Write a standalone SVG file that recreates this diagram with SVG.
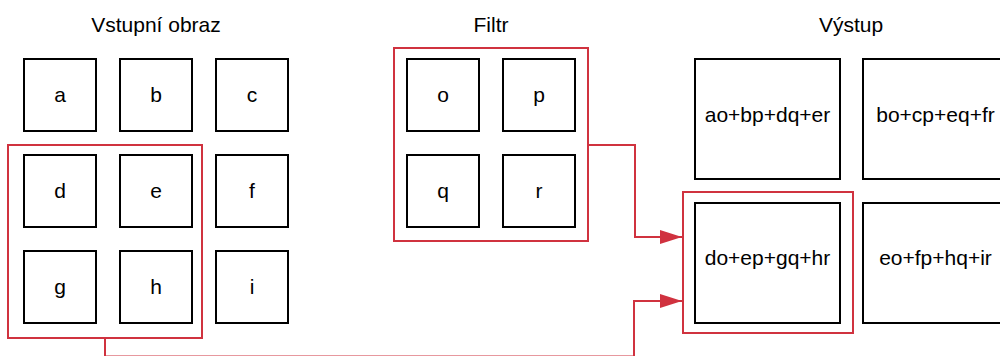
<svg xmlns="http://www.w3.org/2000/svg" width="1000" height="356" viewBox="0 0 1000 356">
  <style>
    .cell { fill: #ffffff; stroke: #000000; stroke-width: 2; }
    .sel { fill: none; stroke: #d0323f; stroke-width: 2; }
    .title { font-family: "Liberation Sans", Arial, sans-serif; font-size: 21px; fill: #000000; text-anchor: middle; }
    .lbl { font-family: "Liberation Sans", Arial, sans-serif; font-size: 21px; fill: #000000; text-anchor: middle; }
    .wire { fill: none; stroke: #d0323f; stroke-width: 2; }
  </style>
  <defs>
    <marker id="arrow" viewBox="0 0 22 14" refX="22" refY="7" markerWidth="22" markerHeight="14" markerUnits="userSpaceOnUse" orient="auto">
      <path d="M0,0 L22,7 L0,14 Z" fill="#d0323f"/>
    </marker>
  </defs>
  <rect width="1000" height="356" fill="#ffffff"/>

  <!-- section titles -->
  <text class="title" x="156" y="32">Vstupní obraz</text>
  <text class="title" x="491" y="32">Filtr</text>
  <text class="title" x="851" y="32">Výstup</text>

  <!-- input image 3x3 -->
  <g id="in-a"><rect class="cell" x="24" y="59" width="72" height="72"/><text class="lbl" x="60" y="102">a</text></g>
  <g id="in-b"><rect class="cell" x="120" y="59" width="72" height="72"/><text class="lbl" x="156" y="102">b</text></g>
  <g id="in-c"><rect class="cell" x="216" y="59" width="72" height="72"/><text class="lbl" x="252" y="102">c</text></g>
  <g id="in-d"><rect class="cell" x="24" y="155" width="72" height="72"/><text class="lbl" x="60" y="198">d</text></g>
  <g id="in-e"><rect class="cell" x="120" y="155" width="72" height="72"/><text class="lbl" x="156" y="198">e</text></g>
  <g id="in-f"><rect class="cell" x="216" y="155" width="72" height="72"/><text class="lbl" x="252" y="198">f</text></g>
  <g id="in-g"><rect class="cell" x="24" y="251" width="72" height="72"/><text class="lbl" x="60" y="294">g</text></g>
  <g id="in-h"><rect class="cell" x="120" y="251" width="72" height="72"/><text class="lbl" x="156" y="294">h</text></g>
  <g id="in-i"><rect class="cell" x="216" y="251" width="72" height="72"/><text class="lbl" x="252" y="294">i</text></g>
  <g id="in-window"><rect class="sel" x="8" y="145" width="194" height="193"/></g>

  <!-- filter 2x2 -->
  <g id="filter-frame"><rect class="sel" x="394" y="48" width="194" height="193"/></g>
  <g id="f-o"><rect class="cell" x="407" y="59" width="72" height="72"/><text class="lbl" x="443" y="102">o</text></g>
  <g id="f-p"><rect class="cell" x="503" y="59" width="72" height="72"/><text class="lbl" x="539" y="102">p</text></g>
  <g id="f-q"><rect class="cell" x="407" y="155" width="72" height="72"/><text class="lbl" x="443" y="198">q</text></g>
  <g id="f-r"><rect class="cell" x="503" y="155" width="72" height="72"/><text class="lbl" x="539" y="198">r</text></g>

  <!-- output 2x2 -->
  <g id="out-00"><rect class="cell" x="695" y="59" width="145" height="120"/><text class="lbl" x="767.5" y="122">ao+bp+dq+er</text></g>
  <g id="out-01"><rect class="cell" x="863" y="59" width="145" height="120"/><text class="lbl" x="935.5" y="122">bo+cp+eq+fr</text></g>
  <g id="out-10"><rect class="cell" x="695" y="203" width="145" height="120"/><text class="lbl" x="767.5" y="265">do+ep+gq+hr</text></g>
  <g id="out-11"><rect class="cell" x="863" y="203" width="145" height="120"/><text class="lbl" x="935.5" y="265">eo+fp+hq+ir</text></g>
  <g id="out-mark"><rect class="sel" x="683" y="192" width="170" height="141"/></g>

  <!-- connectors -->
  <g id="connectors">
    <polyline class="wire" points="588,145 635,145 635,237 682,237" marker-end="url(#arrow)"/>
    <polyline class="wire" points="105,338 105,356.5 634,356.5 634,301 682,301" marker-end="url(#arrow)"/>
  </g>
</svg>
